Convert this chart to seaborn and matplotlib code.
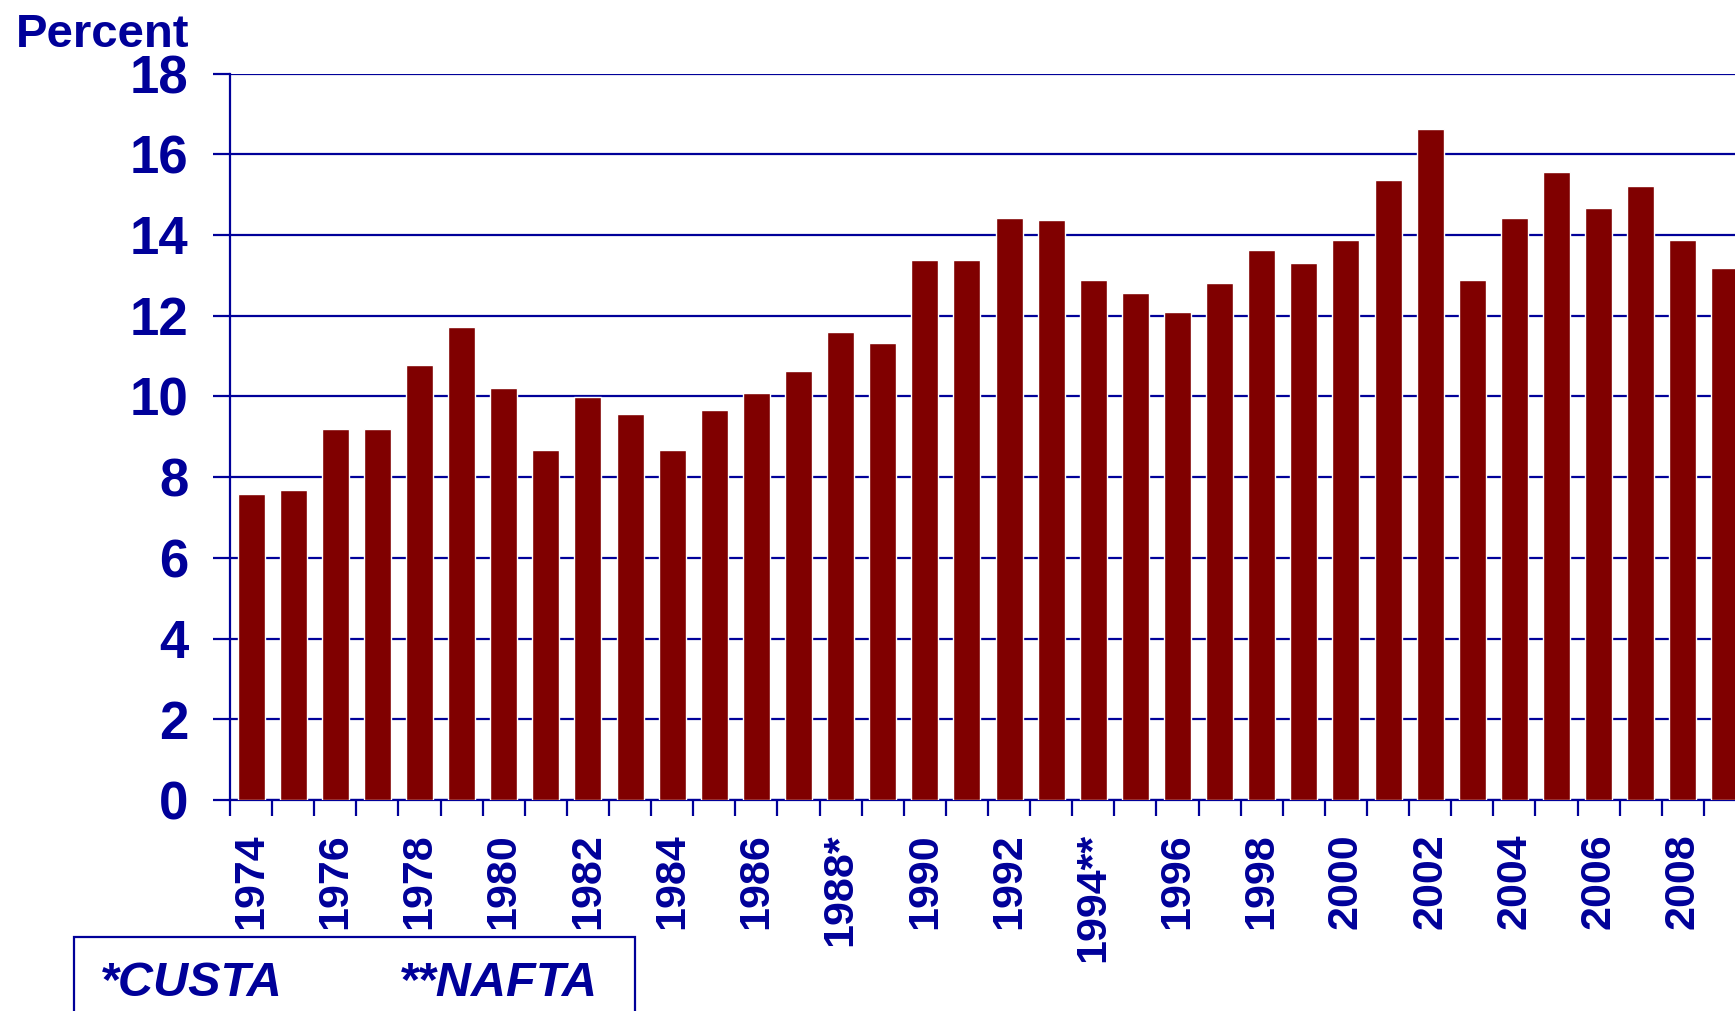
import matplotlib
matplotlib.use("Agg")
import matplotlib.pyplot as plt
import seaborn as sns
import pandas as pd
import numpy as np
from matplotlib.patches import Rectangle

# Data
years = list(range(1974, 2010))
values = [7.57, 7.69, 9.18, 9.18, 10.77, 11.71, 10.22, 8.68, 9.98, 9.56,
          8.68, 9.67, 10.09, 10.63, 11.60, 11.32, 13.38, 13.38, 14.43, 14.37,
          12.89, 12.56, 12.09, 12.81, 13.63, 13.30, 13.88, 15.36, 16.63, 12.89,
          14.43, 15.56, 14.67, 15.22, 13.88, 13.18]
tick_labels = ["1974", "", "1976", "", "1978", "", "1980", "", "1982", "",
               "1984", "", "1986", "", "1988*", "", "1990", "", "1992", "",
               "1994**", "", "1996", "", "1998", "", "2000", "", "2002", "",
               "2004", "", "2006", "", "2008", ""]
y_ticks = [0, 2, 4, 6, 8, 10, 12, 14, 16, 18]
notes = ["*CUSTA", "**NAFTA"]

BLUE = "#000099"
MAROON = "#800000"

sns.set_style("white")
plt.rcParams["font.family"] = ["Liberation Sans", "DejaVu Sans"]
plt.rcParams["font.weight"] = "bold"

W, H = 1735, 1011
fig = plt.figure(figsize=(W / 100, H / 100), dpi=100)

# axes placed in pixel terms; right edge runs past the figure like the original
left, right = 230, 230 + 36 * 42.11
top, bottom = 73.5, 800
ax = fig.add_axes([left / W, 1 - bottom / H, (right - left) / W, (bottom - top) / H])

df = pd.DataFrame({"year": [str(y) for y in years], "value": values})
sns.barplot(data=df, x="year", y="value", color=MAROON, saturation=1,
            width=0.64, ax=ax, zorder=3)

ax.set_xlim(-0.5, len(years) - 0.5)
ax.set_ylim(0, 18)
ax.set_xlabel("")
ax.set_ylabel("")

# gridlines
ax.set_yticks(y_ticks)
ax.yaxis.grid(True, color=BLUE, linewidth=1.6, zorder=0)
ax.xaxis.grid(False)
ax.set_axisbelow(True)

# labels at bar centers, tick marks between bars
ax.set_xticks(np.arange(len(years)))
ax.set_xticklabels(tick_labels, rotation=90, fontsize=31, fontweight="bold",
                   color=BLUE)
ax.set_xticks(np.arange(len(years) + 1) - 0.5, minor=True)
ax.tick_params(axis="x", which="major", length=0, pad=24)
ax.tick_params(axis="x", which="minor", length=11.5, width=1.6, color=BLUE,
               direction="out", bottom=True)
ax.tick_params(axis="y", which="major", length=12, width=1.6, color=BLUE,
               direction="out", left=True, pad=18)
for lbl in ax.get_yticklabels():
    lbl.set_fontsize(38)
    lbl.set_fontweight("bold")
    lbl.set_color(BLUE)

for side in ["top", "right"]:
    ax.spines[side].set_visible(False)
for side in ["left", "bottom"]:
    ax.spines[side].set_color(BLUE)
    ax.spines[side].set_linewidth(1.6)

fig.text(189 / W, 1 - 47 / H, "Percent", ha="right", va="baseline",
         fontsize=34, fontweight="bold", color=BLUE)

# notes box at the bottom, running off the figure
box = Rectangle((74 / W, -0.05), (635 - 74) / W, (1 - 937 / H) + 0.05,
                transform=fig.transFigure, fill=False, edgecolor=BLUE,
                linewidth=1.6, clip_on=False)
fig.patches.append(box)
fig.text(100 / W, 1 - 996 / H, notes[0], ha="left", va="baseline",
         fontsize=35, fontweight="bold", fontstyle="italic", color=BLUE)
fig.text(399 / W, 1 - 996 / H, notes[1], ha="left", va="baseline",
         fontsize=35, fontweight="bold", fontstyle="italic", color=BLUE)

fig.savefig("out.png", dpi=100)
plt.close(fig)
